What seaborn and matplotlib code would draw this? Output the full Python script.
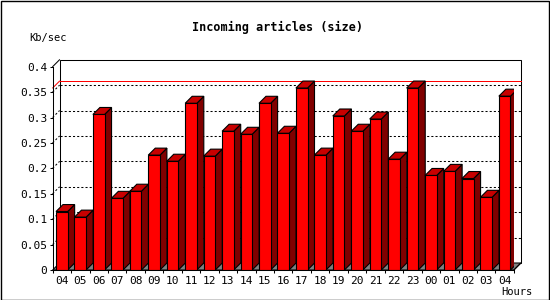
import numpy as np
import pandas as pd
import matplotlib
matplotlib.use("Agg")
import matplotlib.pyplot as plt
from matplotlib.patches import Polygon, Rectangle
import seaborn as sns

# ---- data ----
hours = ["04", "05", "06", "07", "08", "09", "10", "11", "12", "13", "14", "15", "16",
         "17", "18", "19", "20", "21", "22", "23", "00", "01", "02", "03", "04"]
kb_per_sec = [0.115, 0.104, 0.306, 0.141, 0.155, 0.226, 0.214, 0.328, 0.224, 0.273,
              0.267, 0.328, 0.269, 0.358, 0.226, 0.303, 0.273, 0.297, 0.218, 0.358,
              0.186, 0.194, 0.180, 0.143, 0.342]
y_ticks = [0, 0.05, 0.1, 0.15, 0.2, 0.25, 0.3, 0.35, 0.4]
y_tick_labels = ["0", "0.05", "0.1", "0.15", "0.2", "0.25", "0.3", "0.35", "0.4"]
title = "Incoming articles (size)"
y_label = "Kb/sec"
x_label = "Hours"

sns.set_style("white")
plt.rcParams["font.family"] = ["DejaVu Sans Mono", "DejaVu Sans"]
plt.rcParams["text.color"] = "black"
plt.rcParams["xtick.color"] = "black"
plt.rcParams["ytick.color"] = "black"
plt.rcParams["xtick.labelcolor"] = "black"
plt.rcParams["ytick.labelcolor"] = "black"

W, H, DPI = 550, 300, 100
fig = plt.figure(figsize=(W / DPI, H / DPI), dpi=DPI)
fig.patch.set_facecolor("white")

# front plane of the plot
ax = fig.add_axes([52.6 / W, 30 / H, 461.3 / W, 203.3 / H])
ax.set_facecolor("none")

df = pd.DataFrame({"idx": np.arange(len(hours)), "val": kb_per_sec})
sns.barplot(data=df, x="idx", y="val", color="#ff0000", saturation=1, width=0.63,
            edgecolor="black", linewidth=0.8, ax=ax)

n = len(hours)
ax.set_xlim(-0.5, n - 0.5)
ax.set_ylim(0, 0.4)

# depth offset (7 px right, 7 px up) in data units
p0 = ax.transData.transform((0, 0))
q = ax.transData.inverted().transform(p0 + np.array([7.0, 7.0]))
dx, dy = q[0], q[1]

x0, x1 = -0.5, n - 0.5
lw = 0.75

# back wall
ax.add_patch(Rectangle((x0 + dx, dy), x1 - x0, 0.4, facecolor="white",
                       edgecolor="black", linewidth=lw, zorder=0.5, clip_on=False))
# floor
ax.add_patch(Polygon([(x0, 0), (x1, 0), (x1 + dx, dy), (x0 + dx, dy)], closed=True,
                     facecolor="#808080", edgecolor="black", linewidth=lw,
                     zorder=0.6, clip_on=False))
# grid lines on back wall and left wall
for yv in y_ticks[1:-1]:
    ax.plot([x0 + dx, x1 + dx], [yv + dy, yv + dy], color="black", linewidth=lw,
            linestyle=(0, (2, 2)), zorder=0.7, clip_on=False)
    ax.plot([x0, x0 + dx], [yv, yv + dy], color="black", linewidth=lw,
            linestyle=(0, (2, 2)), zorder=0.7, clip_on=False)
# max line
vmax = max(kb_per_sec)
ax.plot([x0 + dx, x1 + dx], [vmax + dy, vmax + dy], color="#ff0000", linewidth=0.72,
        zorder=0.8, clip_on=False, antialiased=False)
ax.plot([x0, x0 + dx], [vmax, vmax + dy], color="#ff0000", linewidth=0.72,
        zorder=0.8, clip_on=False)
# left wall top diagonal
ax.plot([x0, x0 + dx], [0.4, 0.4 + dy], color="black", linewidth=lw, zorder=0.8,
        clip_on=False)
ax.plot([x1, x1 + dx], [0, dy], color="black", linewidth=lw, zorder=0.8, clip_on=False)

# 3D sides and tops derived from the bars
for p in list(ax.patches):
    if not isinstance(p, Rectangle) or p.get_facecolor()[:3] != (1.0, 0.0, 0.0):
        continue
    bx, bw, bh = p.get_x(), p.get_width(), p.get_height()
    xr = bx + bw
    side = Polygon([(xr, 0), (xr + dx, dy), (xr + dx, bh + dy), (xr, bh)], closed=True,
                   facecolor="#800000", edgecolor="black", linewidth=0.8, zorder=1)
    top = Polygon([(bx, bh), (xr, bh), (xr + dx, bh + dy), (bx + dx, bh + dy)],
                  closed=True, facecolor="#c80000", edgecolor="black", linewidth=0.8,
                  zorder=1)
    ax.add_patch(side)
    ax.add_patch(top)
    p.set_zorder(2)

# axes
for s in ["top", "right"]:
    ax.spines[s].set_visible(False)
for s in ["left", "bottom"]:
    ax.spines[s].set_visible(True)
    ax.spines[s].set_color("black")
    ax.spines[s].set_linewidth(lw)
    ax.spines[s].set_zorder(3)

ax.set_yticks(y_ticks)
ax.set_yticklabels(y_tick_labels)
ax.set_xticks(np.arange(n))
ax.set_xticklabels(hours)
ax.set_xticks(np.arange(n + 1) - 0.5, minor=True)
ax.tick_params(axis="x", which="major", length=0, pad=4, labelsize=8, labelcolor="black")
ax.tick_params(axis="x", which="minor", length=2.5, width=lw, direction="out",
               color="black", bottom=True)
ax.tick_params(axis="y", which="major", length=2.5, width=lw, direction="out",
               color="black", left=True, pad=1.5, labelsize=8, labelcolor="black")
ax.set_xlabel("")
ax.set_ylabel("")

fig.text(277 / W, 1 - 27 / H, title, ha="center", va="center", fontsize=8.5,
         fontweight="bold", color="black")
fig.text(29 / W, 1 - 38 / H, y_label, ha="left", va="center", fontsize=7.5,
         color="black")
fig.text(533 / W, 1 - 292 / H, x_label, ha="right", va="center", fontsize=7.5,
         color="black")

# outer border
fig.patches.append(Rectangle((0.5 / W, 0.5 / H), 1 - 1.5 / W, 1 - 1.5 / H,
                             transform=fig.transFigure, fill=False,
                             edgecolor="black", linewidth=1.0))

fig.savefig("out.png", dpi=DPI)
